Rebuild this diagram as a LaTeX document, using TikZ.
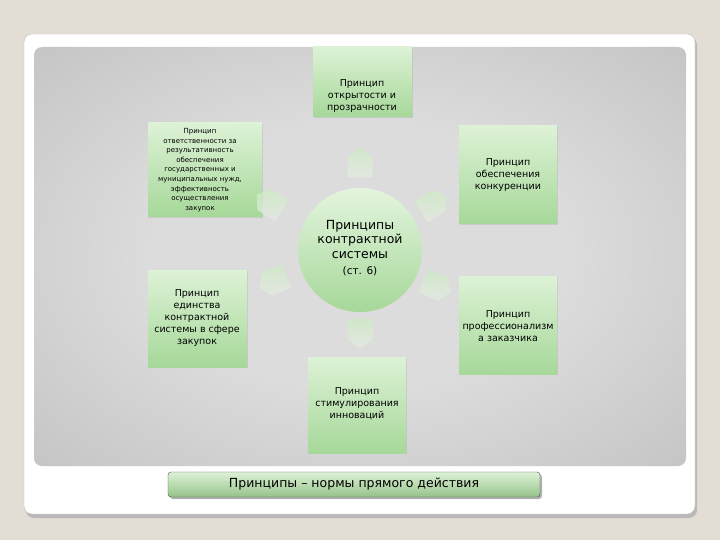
\documentclass[tikz,border=0pt]{standalone}
\usepackage{fontspec}
\setmainfont{DejaVu Sans}
\usetikzlibrary{shapes.symbols,shadows}

\definecolor{slidebg}{HTML}{E3DED5}
\definecolor{panelin}{HTML}{DCDCDC}
\definecolor{panelmid}{HTML}{C2C2C2}
\definecolor{panelout}{HTML}{A0A0A0}
\definecolor{boxtop}{HTML}{DDF2D6}
\definecolor{boxbot}{HTML}{A6D899}
\definecolor{arrowtop}{HTML}{CDEBC4}
\definecolor{arrowbot}{HTML}{E6ECE2}

\pgfdeclareradialshading{panelshade}{\pgfpoint{0bp}{0bp}}{color(0bp)=(panelin); color(16bp)=(panelin); color(38bp)=(panelmid); color(52bp)=(panelout!55!panelmid); color(72bp)=(panelout)}

\tikzset{
  box/.style={rectangle, inner sep=0pt, outer sep=0pt, top color=boxtop, bottom color=boxbot,
    drop shadow={opacity=0.2, shadow xshift=1pt, shadow yshift=-1pt}},
  txt/.style={align=center, inner sep=0pt, font=\fontsize{9.5}{12}\selectfont},
  smalltxt/.style={align=center, inner sep=0pt, font=\fontsize{7}{9.6}\selectfont},
  house/.style={signal, signal to=north, signal pointer angle=110, inner sep=0pt,
    minimum width=25, minimum height=21, top color=arrowtop, bottom color=arrowbot, opacity=0.75}
}

\begin{document}
\begin{tikzpicture}[x=1pt,y=-1pt]
\useasboundingbox (0,0) rectangle (720,540);

\fill[slidebg] (0,0) rectangle (720,540);

\fill[gray!55, rounded corners=8] (26,37) rectangle (697,518);

\filldraw[fill=white, draw=gray!50, rounded corners=8] (24,34) rectangle (695,514);

\shade[shading=panelshade, rounded corners=8] (34,47) rectangle (686,466);

\node[box, minimum width=99, minimum height=70] (openbox) at (362.5,82) {};
\node[txt] (opentxt) at (362,96) {Принцип\\открытости и\\прозрачности};

\node[box, minimum width=114, minimum height=94] (respbox) at (205,170) {};
\node[smalltxt] (resptxt) at (200,170) {Принцип\\ответственности за\\результативность\\обеспечения\\государственных и\\муниципальных нужд,\\эффективность\\осуществления\\закупок};

\node[box, minimum width=98, minimum height=98] (compbox) at (508,175) {};
\node[txt] (comptxt) at (508,175) {Принцип\\обеспечения\\конкуренции};

\node[box, minimum width=99, minimum height=97] (unitybox) at (197.5,318.5) {};
\node[txt] (unitytxt) at (197,318) {Принцип\\единства\\контрактной\\системы в сфере\\закупок};

\node[box, minimum width=98, minimum height=98] (profbox) at (508,325) {};
\node[txt] (proftxt) at (508,326) {Принцип\\профессионализм\\а заказчика};

\node[box, minimum width=98, minimum height=96] (innovbox) at (357,405) {};
\node[txt] (innovtxt) at (357,404) {Принцип\\стимулирования\\инноваций};

\node[circle, inner sep=0pt, minimum size=124, top color=boxtop!80!white, bottom color=boxbot] (core) at (360,250) {};
\node[align=center, inner sep=0pt, font=\fontsize{12.5}{14.5}\selectfont] (coretxt) at (360,248) {Принципы\\контрактной\\системы\\[2pt]{\fontsize{10.5}{12}\selectfont(ст. 6)}};

\node[house] (toopen) at (360,167) {};
\node[house, rotate=58] (toresp) at (273,205) {};
\node[house, rotate=-58] (tocomp) at (430,206) {};
\node[house, rotate=112] (tounity) at (277,280) {};
\node[house, rotate=-112] (toprof) at (433,285) {};
\node[house, rotate=180] (toinnov) at (360,329) {};

\node[rectangle, rounded corners=3, draw=gray!60!black, minimum width=372, minimum height=25,
  top color=boxtop, bottom color=boxbot!90!black,
  drop shadow={opacity=0.6, shadow xshift=2pt, shadow yshift=-2pt},
  font=\fontsize{12.5}{14}\selectfont] (rule) at (354,484.5) {Принципы – нормы прямого действия};

\end{tikzpicture}
\end{document}
